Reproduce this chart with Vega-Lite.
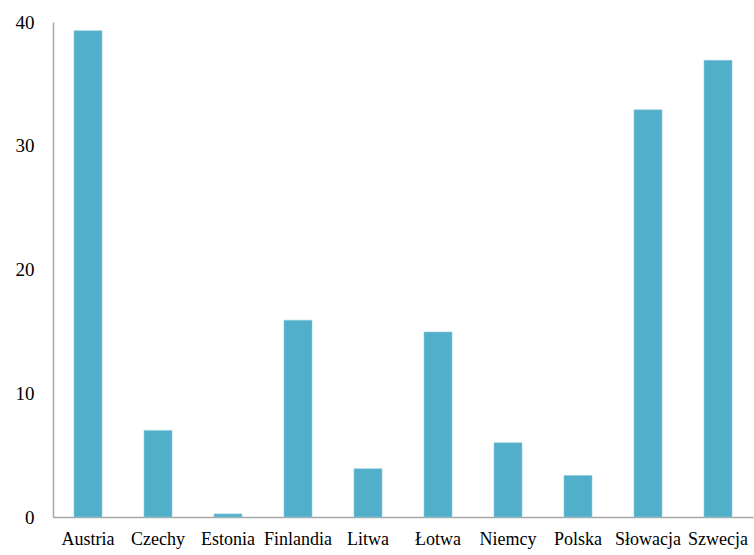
{
  "$schema": "https://vega.github.io/schema/vega-lite/v6.json",
  "width": 700,
  "height": 495,
  "autosize": "none",
  "padding": {"left": 53, "top": 22, "right": 1, "bottom": 38},
  "background": "white",
  "config": {"view": {"stroke": null}, "font": "Liberation Serif"},
  "data": {"values": [
    {"kraj": "Austria", "v": 39.3},
    {"kraj": "Czechy", "v": 7.0},
    {"kraj": "Estonia", "v": 0.25},
    {"kraj": "Finlandia", "v": 15.9},
    {"kraj": "Litwa", "v": 3.9},
    {"kraj": "Łotwa", "v": 14.95},
    {"kraj": "Niemcy", "v": 6.0},
    {"kraj": "Polska", "v": 3.35},
    {"kraj": "Słowacja", "v": 32.9},
    {"kraj": "Szwecja", "v": 36.9}
  ]},
  "mark": {"type": "bar", "color": "#51AFC9", "stroke": "#8ACBDC", "strokeWidth": 0.6},
  "encoding": {
    "x": {
      "field": "kraj", "type": "nominal", "sort": null,
      "scale": {"paddingInner": 0.6, "paddingOuter": 0.3},
      "axis": {"title": null, "labelAngle": 0, "ticks": false, "domainColor": "#A6A6A6", "domainWidth": 1.5,
               "labelFont": "Liberation Serif", "labelFontSize": 18, "labelColor": "#000000", "labelPadding": 13}
    },
    "y": {
      "field": "v", "type": "quantitative",
      "scale": {"domain": [0, 40], "nice": false},
      "axis": {"title": null, "values": [0, 10, 20, 30, 40], "ticks": false, "grid": false, "domainColor": "#A6A6A6", "domainWidth": 1.5,
               "labelFont": "Liberation Serif", "labelFontSize": 19, "labelColor": "#000000", "labelPadding": 19}
    }
  }
}
